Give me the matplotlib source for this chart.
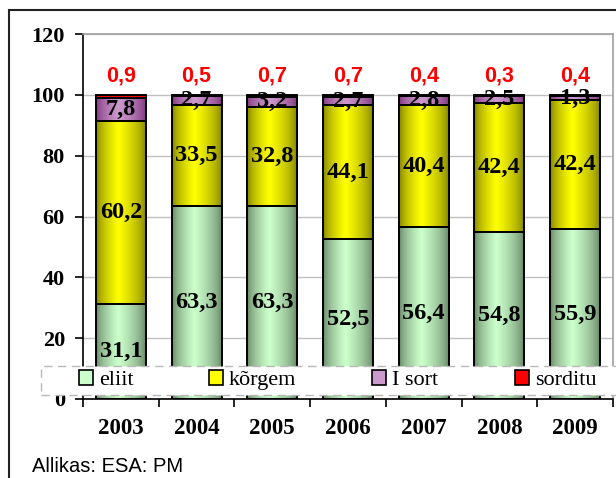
import numpy as np
import matplotlib
matplotlib.use("Agg")
from matplotlib import pyplot as plt
from matplotlib.colors import LinearSegmentedColormap
from matplotlib.patches import Rectangle, Patch

years = ["2003", "2004", "2005", "2006", "2007", "2008", "2009"]
eliit = [31.1, 63.3, 63.3, 52.5, 56.4, 54.8, 55.9]
korgem = [60.2, 33.5, 32.8, 44.1, 40.4, 42.4, 42.4]
i_sort = [7.8, 2.7, 3.2, 2.7, 2.8, 2.5, 1.3]
sorditu = [0.9, 0.5, 0.7, 0.7, 0.4, 0.3, 0.4]
series_names = ["eliit", "kõrgem", "I sort", "sorditu"]
yticks = [0, 20, 40, 60, 80, 100, 120]

# (dark edge, light middle) for the cylinder-like shading
shades = [("#5f7d5f", "#ccffcc"),
          ("#7a7a00", "#ffff00"),
          ("#7a2f7a", "#cc99cc"),
          ("#ff0000", "#ff0000")]

serif = "Liberation Serif"
sans = "Liberation Sans"

fig = plt.figure(figsize=(6.16, 4.78), dpi=100)
ax = fig.add_axes([83 / 616, 1 - 399 / 478, 530 / 616, 365 / 478])

x = np.arange(len(years))
width = 0.66
bottom = np.zeros(len(years))

# horizontal gradient profile: dark at edges, light a bit left of centre
prof = np.concatenate([np.linspace(0, 1, 45), np.linspace(1, 0, 55)])
prof = prof ** 0.6
grad = prof.reshape(1, -1)

for vals, (dark, light) in zip([eliit, korgem, i_sort, sorditu], shades):
    bars = ax.bar(x, vals, width, bottom=bottom, color="none",
                  edgecolor="black", linewidth=1.4, zorder=3)
    cmap = LinearSegmentedColormap.from_list("g", [dark, light])
    for b in bars:
        bx, by = b.get_x(), b.get_y()
        im = ax.imshow(grad, cmap=cmap, aspect="auto", vmin=0, vmax=1,
                       extent=[bx, bx + b.get_width(), by, by + b.get_height()],
                       zorder=2, interpolation="bilinear")
        im.set_clip_path(b)
    bottom = bottom + np.array(vals)

# segment labels
def fmt(v):
    return ("%.1f" % v).replace(".", ",")

base = np.zeros(len(years))
for vals in [eliit, korgem, i_sort]:
    for xi, (b0, v) in enumerate(zip(base, vals)):
        ax.text(xi, b0 + v / 2, fmt(v), ha="center", va="center",
                fontsize=17.5, fontweight="bold", family=serif, zorder=5)
    base = base + np.array(vals)

for xi, (b0, v) in enumerate(zip(base, sorditu)):
    ax.text(xi, b0 + v + 6.3, fmt(v), ha="center", va="center",
            fontsize=15.5, fontweight="bold", family=sans, color="#ff0000",
            zorder=5)

ax.set_xlim(-0.5, len(years) - 0.5)
ax.set_ylim(0, 120)
ax.set_yticks(yticks)
ax.set_yticklabels([str(t) for t in yticks], fontsize=16, fontweight="bold",
                   family=serif)
ax.set_xticks(x)
ax.set_xticklabels(years, fontsize=16.5, fontweight="bold", family=serif)
ax.set_xticks(np.arange(-0.5, len(years)), minor=True)
ax.tick_params(axis="x", which="major", length=0, pad=14)
ax.tick_params(axis="x", which="minor", length=6, width=1.2)
ax.tick_params(axis="y", length=6, width=1.2, pad=7)

ax.grid(axis="y", color="#c0c0c0", linewidth=1, zorder=0)
ax.set_axisbelow(True)
for s in ["top", "right"]:
    ax.spines[s].set_color("#a0a0a0")
    ax.spines[s].set_linewidth(1.2)
for s in ["left", "bottom"]:
    ax.spines[s].set_color("black")
    ax.spines[s].set_linewidth(1.2)

# legend box (white, dashed) laid over the lower part of the plot
fig.patches.append(Rectangle((41 / 616, 1 - 395 / 478), 1.0, 29 / 478,
                             transform=fig.transFigure, facecolor="white",
                             edgecolor="#b8b8b8", linewidth=1,
                             linestyle=(0, (6, 4)), zorder=4))

handles = [Patch(facecolor=light, edgecolor="black", linewidth=1.2)
           for dark, light in shades[:3]]
handles.append(Patch(facecolor="#ff0000", edgecolor="black", linewidth=1.2))
leg_x = [79, 209, 372, 515]
for h, name, lx in zip(handles, series_names, leg_x):
    leg = fig.legend([h], [name], loc="center left",
                     bbox_to_anchor=(lx / 616, 1 - 380 / 478),
                     frameon=False, prop={"family": serif, "size": 16},
                     handlelength=0.65, handleheight=0.7, handletextpad=0.25,
                     borderpad=0, borderaxespad=0)
    leg.set_zorder(6)

# outer chart frame
fig.patches.append(Rectangle((9 / 616, -0.2), 1.2, 1.2 - 10 / 478,
                             transform=fig.transFigure, fill=False,
                             edgecolor="#222222", linewidth=1.5))

fig.text(32 / 616, 1 - 466 / 478, "Allikas: ESA: PM", fontsize=14.5,
         family=sans, va="center", ha="left")

fig.savefig("out.png", dpi=100)
